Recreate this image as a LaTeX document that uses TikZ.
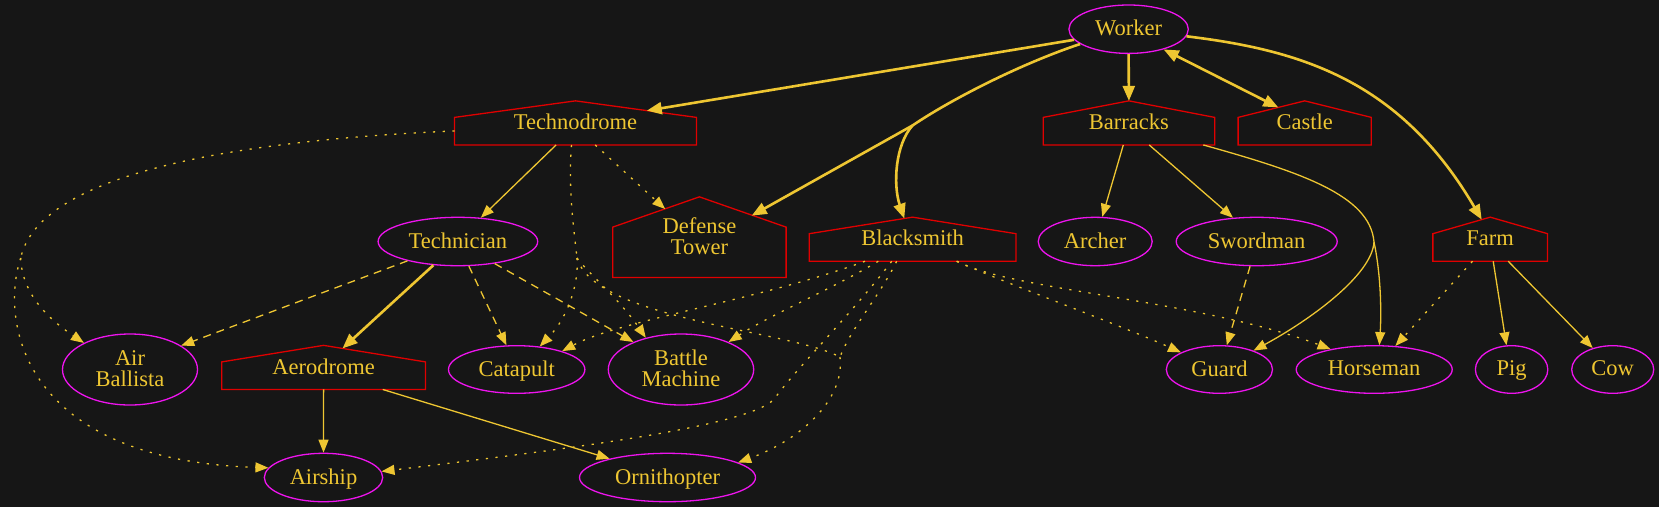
\documentclass[tikz,border=0pt]{standalone}
\usepackage{fontspec}
\setmainfont{Liberation Serif}
\usepackage{xcolor}
\usetikzlibrary{shapes.geometric,arrows.meta,calc}
\definecolor{gold}{HTML}{EEC632}
\definecolor{unitpink}{HTML}{EE14EE}
\definecolor{housered}{HTML}{E00000}
\definecolor{bgdark}{HTML}{161616}
\tikzset{
  smalltip/.tip={Triangle[length=13pt,width=10pt]},
  bigtip/.tip={Triangle[length=15pt,width=12pt]},
  unit/.style={ellipse,draw=unitpink,line width=1.3pt,text=gold,inner sep=0pt,align=center,text depth=.22em},
  bldg/.style={rectangle,inner sep=0pt,text=gold,align=center,text depth=.22em},
  housebox/.style={draw=housered,line width=1.3pt},
  link/.style={draw=gold,line width=1.3pt,-smalltip},
  heavy/.style={draw=gold,line width=2.6pt,-bigtip},
  dashes/.style={link,dash pattern=on 8pt off 6pt},
  dots/.style={link,dash pattern=on 2.2pt off 7.5pt}
}
\begin{document}
\begin{tikzpicture}[x=1pt,y=-1pt,font=\fontsize{22.5}{21}\selectfont]
\useasboundingbox (0,0) rectangle (1659,507);
\fill[bgdark] (0,0) rectangle (1659,507);

\node[unit,minimum width=119.4,minimum height=48.4] (worker) at (1128.6,29.2) {Worker};
\node[bldg,minimum width=241.5,minimum height=43.7] (tdrome) at (575.5,122.9) {Technodrome};
\node[bldg,minimum width=171.1,minimum height=43.7] (barracks) at (1128.9,122.9) {Barracks};
\node[bldg,minimum width=132.8,minimum height=43.7] (castle) at (1304.7,122.9) {Castle};
\node[bldg,minimum width=173,minimum height=80.3] (dtower) at (699.4,237.2) {Defense\\Tower};
\node[bldg,minimum width=206.3,minimum height=43.7] (smith) at (912.6,239.2) {Blacksmith};
\node[bldg,minimum width=114.3,minimum height=43.7] (farm) at (1490.2,239.2) {Farm};
\node[unit,minimum width=159.6,minimum height=48.4] (tech) at (457.9,241.5) {Technician};
\node[unit,minimum width=114,minimum height=48.4] (archer) at (1095.2,241.5) {Archer};
\node[unit,minimum width=161,minimum height=48.4] (sword) at (1256.7,241.5) {Swordman};
\node[unit,minimum width=135,minimum height=71] (ballista) at (130,369.5) {Air\\Ballista};
\node[bldg,minimum width=203.2,minimum height=43.7] (aero) at (323.6,367.4) {Aerodrome};
\node[unit,minimum width=136.4,minimum height=47.6] (catapult) at (516.7,369.5) {Catapult};
\node[unit,minimum width=145.4,minimum height=71] (battle) at (681,369.5) {Battle\\Machine};
\node[unit,minimum width=106.2,minimum height=47.6] (guard) at (1219.4,369.5) {Guard};
\node[unit,minimum width=156,minimum height=47.6] (horse) at (1374.2,369.5) {Horseman};
\node[unit,minimum width=72.4,minimum height=47.6] (pig) at (1511.6,369.5) {Pig};
\node[unit,minimum width=82,minimum height=47.6] (cow) at (1612.7,369.5) {Cow};
\node[unit,minimum width=118.4,minimum height=48.4] (airship) at (323.5,477.5) {Airship};
\node[unit,minimum width=176,minimum height=48.4] (ornith) at (667.5,477.5) {Ornithopter};

\foreach \n in {tdrome,barracks,castle,dtower,smith,farm,aero}
  \draw[housebox] (\n.south west) -- (\n.south east) -- ($(\n.north east)!.375!(\n.south east)$)
    -- (\n.north) -- ($(\n.north west)!.375!(\n.south west)$) -- cycle;

\coordinate (mergeA) at (912.5,125.5);
\coordinate (mergeB) at (1374,242);
\coordinate (mergeC) at (20.7,258);
\coordinate (mergeD) at (577,258);
\coordinate (mergeE) at (840,357);

\draw[heavy] (worker.191.5) -- ([shift={(71.3,9.8)}]tdrome.north);
\draw[heavy,-] (worker.197.5) .. controls (1020,64) and (950,100) .. (mergeA);
\draw[heavy] (mergeA) -- ([shift={(52.3,18.8)}]dtower.north);
\draw[heavy] (mergeA) .. controls (895,145) and (893,185) .. ([shift={(-8.3,1.4)}]smith.north);
\draw[heavy] (worker.south) -- (barracks.north);
\draw[heavy,bigtip-bigtip] (worker.330) -- ([shift={(-26.4,6.6)}]castle.north);
\draw[heavy] (worker.353.3) .. controls (1300,50) and (1400,80) .. ([shift={(-8.5,2.5)}]farm.north);

\draw[link] ([shift={(-5.6,0)}]barracks.south) -- (archer.74);
\draw[link] ([shift={(20.3,0)}]barracks.south) -- (sword.135);
\draw[link,-] ([shift={(74.4,0)}]barracks.south) .. controls (1300,172) and (1370,195) .. (mergeB);
\draw[link] (mergeB) .. controls (1382,280) and (1381,320) .. (horse.78);
\draw[link] (mergeB) .. controls (1372,275) and (1310,320) .. (guard.29);
\draw[dashes] (sword.255) -- (guard.73);

\draw[link] ([shift={(3,0)}]farm.south) -- (pig.102);
\draw[link] ([shift={(18,0)}]farm.south) -- (cow.133);
\draw[dots] ([shift={(-17.7,0)}]farm.south) -- (horse.48);

\draw[link] ([shift={(-19.4,0)}]tdrome.south) -- (tech.46);
\draw[dots] ([shift={(19.7,0)}]tdrome.south) -- ([shift={(-34.2,12.2)}]dtower.north);
\draw[dots,-] ([shift={(0,8)}]tdrome.west) .. controls (250,140) and (40,170) .. (mergeC);
\draw[dots] (mergeC) .. controls (22,295) and (50,320) .. (ballista.150);
\draw[dots] (mergeC) .. controls (0,320) and (20,460) .. (airship.170);
\draw[dots,-] ([shift={(-4,0)}]tdrome.south) .. controls (568,190) and (574,230) .. (mergeD);
\draw[dots] (mergeD) .. controls (579,280) and (570,315) .. (catapult.45);
\draw[dots] (mergeD) .. controls (590,275) and (620,300) .. (battle.138);
\draw[dots,-] (mergeD) .. controls (595,320) and (790,330) .. (mergeE);
\draw[dots] (mergeE) .. controls (845,400) and (800,440) .. (ornith.12);

\draw[heavy] (tech.224) -- ([shift={(18.9,3.1)}]aero.north);
\draw[dashes] (tech.201) -- (ballista.25);
\draw[dashes] (tech.294) -- (catapult.113);
\draw[dashes] (tech.329) -- (battle.150);

\draw[link] (aero.south) -- (airship.north);
\draw[link] ([shift={(59.1,0)}]aero.south) -- (ornith.162);

\draw[dots] ([shift={(-47.6,0)}]smith.south) .. controls (760,300) and (620,320) .. (catapult.22);
\draw[dots] ([shift={(-34.3,0)}]smith.south) .. controls (830,290) and (770,315) .. (battle.30);
\draw[dots] ([shift={(-20.9,0)}]smith.south) .. controls (855,310) and (795,370) .. (775,398)
  .. controls (755,426) and (560,450) .. (airship.6);
\draw[dots,-] ([shift={(-15.9,0)}]smith.south) .. controls (880,295) and (850,330) .. (mergeE);
\draw[dots] ([shift={(44.1,0)}]smith.south) .. controls (1010,290) and (1200,300) .. (horse.155);
\draw[dots] ([shift={(44.1,0)}]smith.south) .. controls (1010,285) and (1120,325) .. (guard.156);
\end{tikzpicture}
\end{document}
